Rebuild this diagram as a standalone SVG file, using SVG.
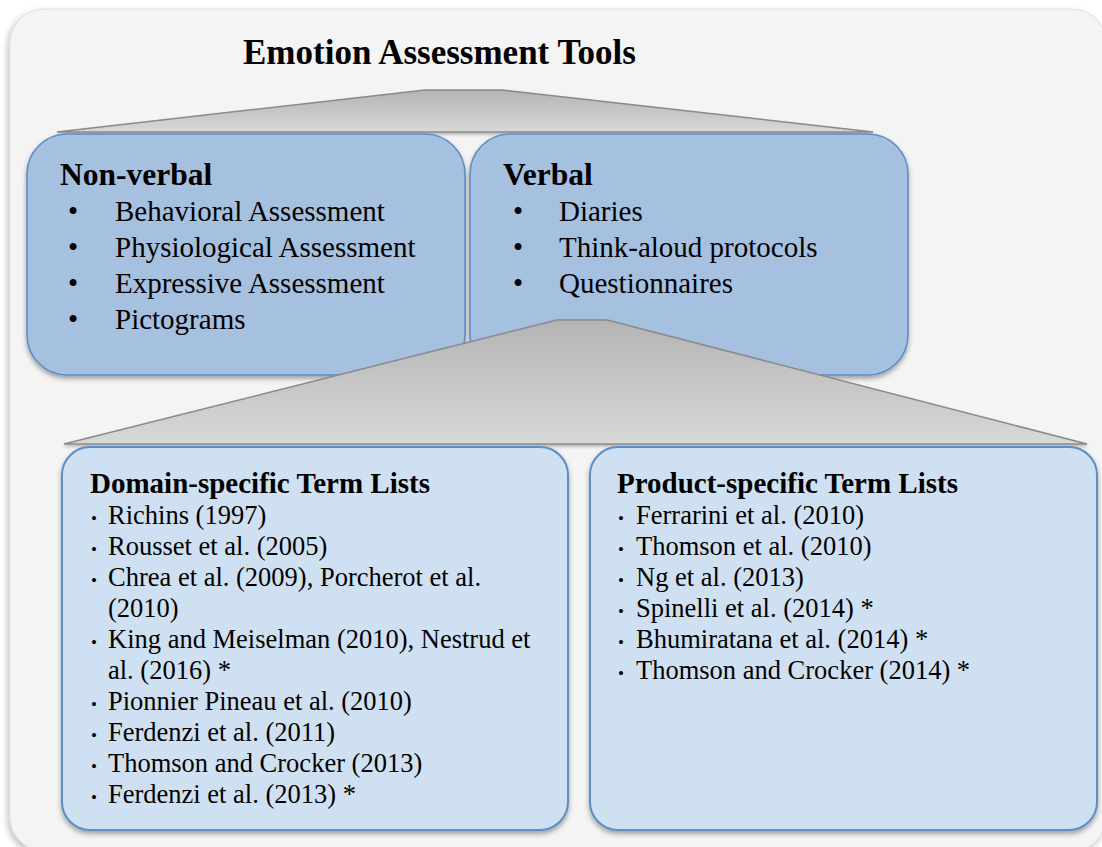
<svg xmlns="http://www.w3.org/2000/svg" width="1102" height="847" viewBox="0 0 1102 847">
  <defs>
    <linearGradient id="trapFill" x1="0" y1="0" x2="0" y2="1">
      <stop offset="0" stop-color="#b4b4b4"/>
      <stop offset="1" stop-color="#d8d8d8"/>
    </linearGradient>
    <filter id="frameShadow" x="-5%" y="-5%" width="110%" height="110%">
      <feDropShadow dx="-2" dy="3" stdDeviation="3" flood-color="#000" flood-opacity="0.25"/>
    </filter>
    <filter id="boxShadow" x="-5%" y="-5%" width="110%" height="115%">
      <feDropShadow dx="0" dy="3" stdDeviation="2.5" flood-color="#000" flood-opacity="0.35"/>
    </filter>
    <filter id="trapShadow" x="-5%" y="-10%" width="110%" height="125%">
      <feDropShadow dx="0" dy="2" stdDeviation="1.5" flood-color="#000" flood-opacity="0.25"/>
    </filter>
  </defs>
  <style>
    .serif { font-family: "Liberation Serif", "Times New Roman", serif; fill: #000; }
    .title { font-size: 35px; font-weight: bold; }
    .head { font-size: 31.5px; font-weight: bold; }
    .item { font-size: 29px; }
    .subhead { font-size: 29px; font-weight: bold; }
    .ref { font-size: 26.5px; }
    .dot { font-size: 17px; }
    .topbox { fill: #a6c0df; stroke: #5b8ec8; stroke-width: 1.6; filter: url(#boxShadow); }
    .lowbox { fill: #cfe0f2; stroke: #5b8ec8; stroke-width: 2; filter: url(#boxShadow); }
    .trap { fill: url(#trapFill); stroke: #8a8a8a; stroke-width: 1.5; filter: url(#trapShadow); }
  </style>

  <!-- background panel -->
  <rect x="10" y="9" width="1096" height="842" rx="34" ry="34" fill="#f4f4f4" stroke="#dedede" stroke-width="1" filter="url(#frameShadow)"/>

  <text class="serif title" x="243" y="64">Emotion Assessment Tools</text>

  <g id="connectors">
    <polygon id="split-top" class="trap" points="57,132 425,90 502,90 873,132"/>
  </g>

  <g id="node-nonverbal">
    <rect class="topbox" x="27" y="134" width="438" height="241" rx="40" ry="40"/>
    <text class="serif head" x="60" y="185">Non-verbal</text>
    <g class="serif item">
      <text x="68" y="221">•</text><text x="115" y="221">Behavioral Assessment</text>
      <text x="68" y="257">•</text><text x="115" y="257">Physiological Assessment</text>
      <text x="68" y="293">•</text><text x="115" y="293">Expressive Assessment</text>
      <text x="68" y="329">•</text><text x="115" y="329">Pictograms</text>
    </g>
  </g>

  <g id="node-verbal">
    <rect class="topbox" x="470" y="134" width="438" height="241" rx="40" ry="40"/>
    <text class="serif head" x="503" y="185">Verbal</text>
    <g class="serif item">
      <text x="513" y="221">•</text><text x="559" y="221">Diaries</text>
      <text x="513" y="257">•</text><text x="559" y="257">Think-aloud protocols</text>
      <text x="513" y="293">•</text><text x="559" y="293">Questionnaires</text>
    </g>
  </g>

  <g id="connectors-verbal">
    <polygon id="split-verbal" class="trap" points="64,444 557,320 607,320 1087,444"/>
  </g>

  <g id="node-domain">
    <rect class="lowbox" x="62" y="447" width="506" height="383" rx="28" ry="28"/>
    <text class="serif subhead" x="90" y="493">Domain-specific Term Lists</text>
    <g class="serif">
      <text class="dot" x="91" y="524">•</text><text class="ref" x="108" y="524">Richins (1997)</text>
      <text class="dot" x="91" y="555">•</text><text class="ref" x="108" y="555">Rousset et al. (2005)</text>
      <text class="dot" x="91" y="586">•</text><text class="ref" x="108" y="586">Chrea et al. (2009), Porcherot et al.</text>
      <text class="ref" x="108" y="617">(2010)</text>
      <text class="dot" x="91" y="648">•</text><text class="ref" x="108" y="648">King and Meiselman (2010), Nestrud et</text>
      <text class="ref" x="108" y="679">al. (2016) *</text>
      <text class="dot" x="91" y="710">•</text><text class="ref" x="108" y="710">Pionnier Pineau et al. (2010)</text>
      <text class="dot" x="91" y="741">•</text><text class="ref" x="108" y="741">Ferdenzi et al. (2011)</text>
      <text class="dot" x="91" y="772">•</text><text class="ref" x="108" y="772">Thomson and Crocker (2013)</text>
      <text class="dot" x="91" y="803">•</text><text class="ref" x="108" y="803">Ferdenzi et al. (2013) *</text>
    </g>
  </g>

  <g id="node-product">
    <rect class="lowbox" x="590" y="447" width="507" height="383" rx="28" ry="28"/>
    <text class="serif subhead" x="617" y="493">Product-specific Term Lists</text>
    <g class="serif">
      <text class="dot" x="618" y="524">•</text><text class="ref" x="636" y="524">Ferrarini et al. (2010)</text>
      <text class="dot" x="618" y="555">•</text><text class="ref" x="636" y="555">Thomson et al. (2010)</text>
      <text class="dot" x="618" y="586">•</text><text class="ref" x="636" y="586">Ng et al. (2013)</text>
      <text class="dot" x="618" y="617">•</text><text class="ref" x="636" y="617">Spinelli et al. (2014) *</text>
      <text class="dot" x="618" y="648">•</text><text class="ref" x="636" y="648">Bhumiratana et al. (2014) *</text>
      <text class="dot" x="618" y="679">•</text><text class="ref" x="636" y="679">Thomson and Crocker (2014) *</text>
    </g>
  </g>
</svg>
